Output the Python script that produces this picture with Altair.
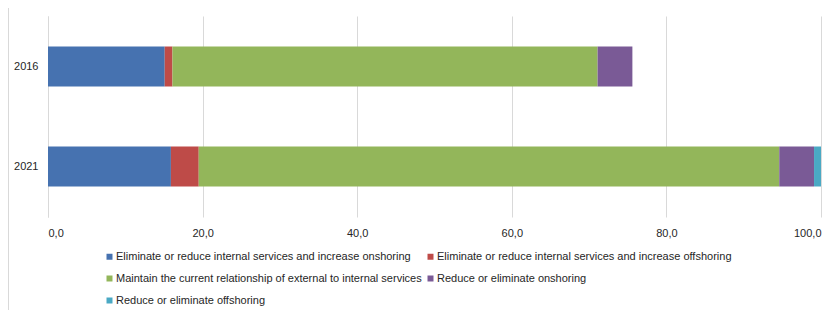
import altair as alt
import pandas as pd

years = ["2016", "2021"]
categories = [
    "Eliminate or reduce internal services and increase onshoring",
    "Eliminate or reduce internal services and increase offshoring",
    "Maintain the current relationship of external to internal services",
    "Reduce or eliminate onshoring",
    "Reduce or eliminate offshoring",
]
values_2016 = [15.1, 1.0, 55.0, 4.5, 0.0]
values_2021 = [15.9, 3.6, 75.1, 4.5, 0.9]
colors = ["#4672B0", "#BE4B48", "#93B65A", "#7A5A96", "#4AA9C4"]
x_ticks = [0, 20, 40, 60, 80, 100]

rows = []
for year, vals in zip(years, [values_2016, values_2021]):
    for i, (cat, v) in enumerate(zip(categories, vals)):
        rows.append({"year": year, "category": cat, "value": v, "idx": i})
df = pd.DataFrame(rows)

FONT = "Liberation Sans"
TEXT = "#262626"
GRID = "#d9d9d9"

bars = alt.Chart(df).mark_bar(stroke=None).encode(
    x=alt.X(
        "value:Q",
        stack="zero",
        scale=alt.Scale(domain=[0, 100], nice=False),
        axis=alt.Axis(
            values=x_ticks,
            title=None,
            domain=False,
            ticks=False,
            grid=True,
            gridColor=GRID,
            gridWidth=1,
            labelExpr="replace(format(datum.value, '.1f'), '.', ',')",
            labelPadding=10,
            labelFont=FONT,
            labelFontSize=11,
            labelColor=TEXT,
        ),
    ),
    y=alt.Y(
        "year:N",
        sort=years,
        scale=alt.Scale(paddingInner=0.6, paddingOuter=0.305),
        axis=alt.Axis(
            title=None,
            ticks=False,
            domain=True,
            domainColor=GRID,
            grid=False,
            labelPadding=10,
            labelFont=FONT,
            labelFontSize=11,
            labelColor=TEXT,
        ),
    ),
    color=alt.Color(
        "category:N",
        sort=categories,
        scale=alt.Scale(domain=categories, range=colors),
        legend=alt.Legend(
            title=None,
            orient="none",
            legendX=56,
            legendY=235,
            columns=2,
            direction="horizontal",
            symbolType="square",
            symbolSize=36,
            symbolStrokeWidth=0,
            labelFont=FONT,
            labelFontSize=11,
            labelColor=TEXT,
            labelOffset=1,
            rowPadding=10,
            columnPadding=3,
            padding=0,
            labelLimit=500,
        ),
    ),
    order=alt.Order("idx:Q", sort="ascending"),
)

border = alt.Chart(alt.Data(values=[{"a": 1}])).mark_rule(
    color=GRID, strokeWidth=1
).encode(
    x=alt.value(-39.5),
    y=alt.value(-8),
    y2=alt.value(310),
)

chart = alt.layer(bars, border).properties(
    width=773,
    height=201,
    autosize=alt.AutoSizeParams(type="none"),
    padding={"left": 40, "top": 8, "right": 5, "bottom": 100},
).configure_view(stroke=None)

chart.save("out.html", embed_options={"renderer": "svg", "actions": False})
